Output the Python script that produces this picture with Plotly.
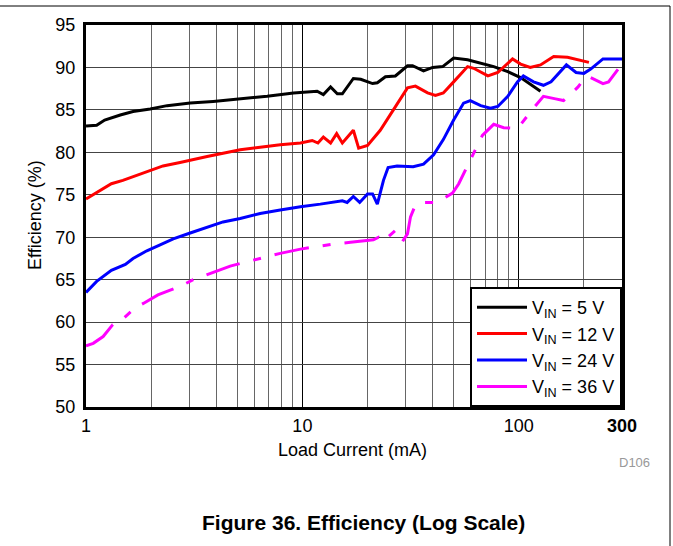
import plotly.graph_objects as go

# Load current (mA) and efficiency (%)
i_5v = [1, 1.12, 1.22, 1.44, 1.65, 1.98, 2.37, 3.03, 3.87, 5.16, 6.87, 9.1,
        11.7, 12.5, 13.5, 14.5, 15.3, 17.2, 18.6, 21.1, 22.2, 24.2, 26.9, 30.6,
        32.3, 36.3, 40, 44.5, 50, 58, 66.7, 76.6, 89, 102, 126]
eff_5v = [83.1, 83.2, 83.8, 84.4, 84.8, 85.1, 85.5, 85.8, 86.0, 86.3, 86.6, 87.0,
          87.2, 86.8, 87.7, 86.9, 86.9, 88.7, 88.6, 88.1, 88.2, 88.9, 89.0, 90.2,
          90.2, 89.6, 90.0, 90.1, 91.1, 90.9, 90.5, 90.1, 89.5, 88.8, 87.2]

i_12v = [1, 1.16, 1.31, 1.48, 1.72, 1.98, 2.27, 2.72, 3.13, 3.63, 4.3, 5.16,
         6.38, 7.9, 9.8, 11.1, 11.8, 12.5, 13.5, 14.4, 15.3, 17.2, 18.2, 20.0,
         22.9, 26.3, 30.6, 33.3, 37.9, 41.2, 44.8, 50, 58, 61.9, 72, 80, 93.6,
         102, 113, 126, 145, 168, 211]
eff_12v = [74.5, 75.5, 76.3, 76.7, 77.3, 77.9, 78.4, 78.8, 79.1, 79.5, 79.9, 80.3,
           80.6, 80.9, 81.1, 81.4, 81.1, 81.8, 81.1, 82.2, 81.1, 82.6, 80.5, 80.8,
           82.6, 85.0, 87.6, 87.8, 87.0, 86.7, 87.0, 88.3, 90.1, 89.9, 89.0, 89.4, 91.0,
           90.4, 90.0, 90.3, 91.3, 91.2, 90.6]

i_24v = [1, 1.12, 1.31, 1.52, 1.65, 1.91, 2.2, 2.53, 3.03, 3.63, 4.3, 5.16,
         6.38, 7.9, 9.8, 12.1, 13.9, 15.3, 16.1, 17.2, 18.4, 20.0, 21.1, 22.2,
         23.7, 24.9, 27.4, 32.5, 36.3, 40.4, 44.8, 50, 55.6, 59.7, 66.7, 74, 80,
         89, 98.6, 105, 117, 130, 141, 166, 184, 200, 215, 245, 300]
eff_24v = [63.5, 64.8, 66.1, 66.8, 67.5, 68.4, 69.1, 69.8, 70.5, 71.2, 71.8, 72.2,
           72.8, 73.2, 73.6, 73.9, 74.1, 74.3, 74.1, 74.8, 74.1, 75.1, 75.1, 73.9,
           76.7, 78.2, 78.4, 78.3, 78.6, 79.7, 81.5, 83.8, 85.8, 86.1, 85.5, 85.2, 85.4,
           86.6, 88.3, 89.0, 88.3, 87.9, 88.3, 90.3, 89.4, 89.3, 89.8, 91.0, 91.0]

i_36v = [1, 1.08, 1.2, 1.33, 1.47, 1.69, 1.84, 2.15, 2.72, 3.13, 3.63, 4.64,
         5.93, 6.59, 7.9, 9.8, 13.9, 16.7, 17.9, 21.3, 22.5, 23.7, 25.3, 26.9,
         29.0, 30.6, 31.6, 33.3, 36.3, 42.1, 49.4, 52.8, 67.9, 76.6, 85.2, 98.6,
         117, 130, 148, 161, 188, 204, 215, 245, 260, 290]
eff_36v = [57.2, 57.5, 58.3, 59.7, 60.3, 61.7, 62.2, 63.2, 64.2, 65.0, 65.6, 66.6,
           67.3, 67.6, 68.1, 68.6, 69.2, 69.4, 69.5, 69.7, 70.0, 69.5, 70.2, 70.8,
           69.5, 70.4, 72.4, 73.8, 74.1, 74.1, 75.2, 76.3, 82.0, 83.3, 82.9, 82.8,
           85.2, 86.6, 86.3, 86.1, 87.7, 88.9, 88.8, 88.1, 88.3, 89.9]

x_ticks = [1, 10, 100, 300]
x_tick_text = ["1", "10", "100", "<b>300</b>"]
x_minor = [2, 3, 4, 5, 6, 7, 8, 9, 20, 30, 40, 50, 60, 70, 80, 90, 200]

FONT = "Liberation Sans, Arial, sans-serif"

fig = go.Figure()
fig.add_trace(go.Scatter(x=i_5v, y=eff_5v, mode="lines", name="V<sub>IN</sub> = 5 V",
                         line=dict(color="black", width=3)))
fig.add_trace(go.Scatter(x=i_12v, y=eff_12v, mode="lines", name="V<sub>IN</sub> = 12 V",
                         line=dict(color="#ff0000", width=3)))
fig.add_trace(go.Scatter(x=i_24v, y=eff_24v, mode="lines", name="V<sub>IN</sub> = 24 V",
                         line=dict(color="#0000ff", width=3)))
fig.add_trace(go.Scatter(x=i_36v, y=eff_36v, mode="lines", name="V<sub>IN</sub> = 36 V",
                         showlegend=False,
                         line=dict(color="#ff00ff", width=3, dash="35px,14px,8px,14px")))
# legend sample for 36 V is drawn solid in the reference
fig.add_trace(go.Scatter(x=[None], y=[None], mode="lines", name="V<sub>IN</sub> = 36 V",
                         line=dict(color="#ff00ff", width=3)))

fig.update_xaxes(type="log", range=[0, 2.4771], tickvals=x_ticks, ticktext=x_tick_text,
                 showgrid=True, gridcolor="black", gridwidth=1,
                 minor=dict(tickvals=x_minor, showgrid=True, gridcolor="#666", gridwidth=1, ticklen=0),
                 showline=True, linecolor="black", linewidth=3, mirror=True,
                 ticks="", zeroline=False,
                 tickfont=dict(family=FONT, size=18, color="black"))
fig.update_yaxes(range=[50, 95], dtick=5, tick0=50,
                 showgrid=True, gridcolor="#444", gridwidth=1,
                 showline=True, linecolor="black", linewidth=3, mirror=True,
                 ticks="", zeroline=False, ticklabelstandoff=4,
                 tickfont=dict(family=FONT, size=18, color="black"))

W_PLOT = 536
H_PLOT = 382


def px_x(x):
    return (x - 86) / W_PLOT


def px_y(y):
    return (407 - y) / H_PLOT


def label(text, x, y, size, **kw):
    return dict(text=text, x=px_x(x), y=px_y(y), xref="paper", yref="paper",
                xanchor="center", yanchor="middle", showarrow=False,
                font=dict(family=FONT, size=size, color=kw.pop("color", "black")), **kw)


fig.update_layout(
    width=673, height=546,
    margin=dict(l=86, r=51, t=25, b=139),
    paper_bgcolor="white", plot_bgcolor="white",
    font=dict(family=FONT, size=18, color="black"),
    showlegend=True,
    legend=dict(x=1, y=0, xanchor="right", yanchor="bottom",
                bordercolor="black", borderwidth=2, bgcolor="white",
                font=dict(family=FONT, size=18, color="black"),
                itemwidth=50, tracegroupgap=0),
    annotations=[
        label("Load Current (mA)", 352, 450, 18),
        label("Efficiency (%)", 35, 215, 18, textangle=-90),
        label("D106", 634, 462, 13, color="#999999"),
        label("<b>Figure 36. Efficiency (Log Scale)</b>", 363, 522, 21),
    ],
    shapes=[
        dict(type="line", xref="paper", yref="paper", x0=px_x(0), x1=px_x(670),
             y0=px_y(6), y1=px_y(6), line=dict(color="black", width=1)),
        dict(type="line", xref="paper", yref="paper", x0=px_x(670), x1=px_x(670),
             y0=px_y(6), y1=px_y(546), line=dict(color="black", width=1)),
    ],
)

fig.write_html("out.html", config={"displayModeBar": False},
               post_script="document.body.style.margin='0';")
